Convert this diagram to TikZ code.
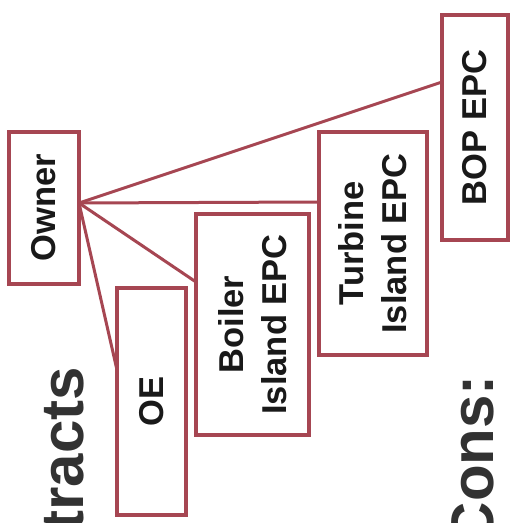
\documentclass[tikz,border=0pt]{standalone}
\usepackage{fontspec}
\setmainfont{Liberation Sans}
\usetikzlibrary{calc}
\definecolor{boxred}{RGB}{166,70,82}
\definecolor{bigtext}{RGB}{50,50,50}
\begin{document}
\begin{tikzpicture}[x=1pt,y=1pt,
  box/.style={draw=boxred, line width=3.5pt, outer sep=0pt, inner sep=0pt},
  txt/.style={rotate=90, align=center, inner sep=0pt, text=black!90, font=\bfseries\fontsize{34.5}{43}\selectfont},
  big/.style={rotate=90, anchor=base east, inner sep=0pt, text=bigtext, font=\bfseries\fontsize{60}{60}\selectfont},
  link/.style={draw=boxred, line width=3pt}]
\useasboundingbox (0,0) rectangle (510,523);
\fill[white] (0,0) rectangle (510,523);
\clip (0,0) rectangle (510,523);
% boxes
\node[box, minimum width=70pt, minimum height=152pt] (owner) at (44,315) {};
\node[box, minimum width=69pt, minimum height=227pt] (oe) at (151.5,121.5) {};
\node[box, minimum width=113pt, minimum height=221pt] (boiler) at (252.5,198.5) {};
\node[box, minimum width=108pt, minimum height=223pt] (turbine) at (373,279.5) {};
\node[box, minimum width=66pt, minimum height=225pt] (bop) at (475,395.5) {};
% texts
\node[txt] (ownert) at (owner) {Owner};
\node[txt] (oet) at (oe) {OE};
\node[txt] (boilert) at (boiler) {Boiler\\Island EPC};
\node[txt] (turbinet) at (turbine) {Turbine\\Island EPC};
\node[txt] (bopt) at (bop) {BOP EPC};
\node[big] (tracts) at (83,156) {tracts};
\node[big] (cons) at (493,148) {Cons:};
% connectors
\coordinate (p) at ([yshift=5pt]owner.east);
\draw[link] (p) -- ([yshift=45.5pt]bop.west);
\draw[link] (p) -- ([yshift=41.5pt]turbine.west);
\draw[link] (p) -- ([yshift=42.5pt]boiler.west);
\draw[link] (p) -- ([yshift=31.5pt]oe.west);
\end{tikzpicture}
\end{document}
